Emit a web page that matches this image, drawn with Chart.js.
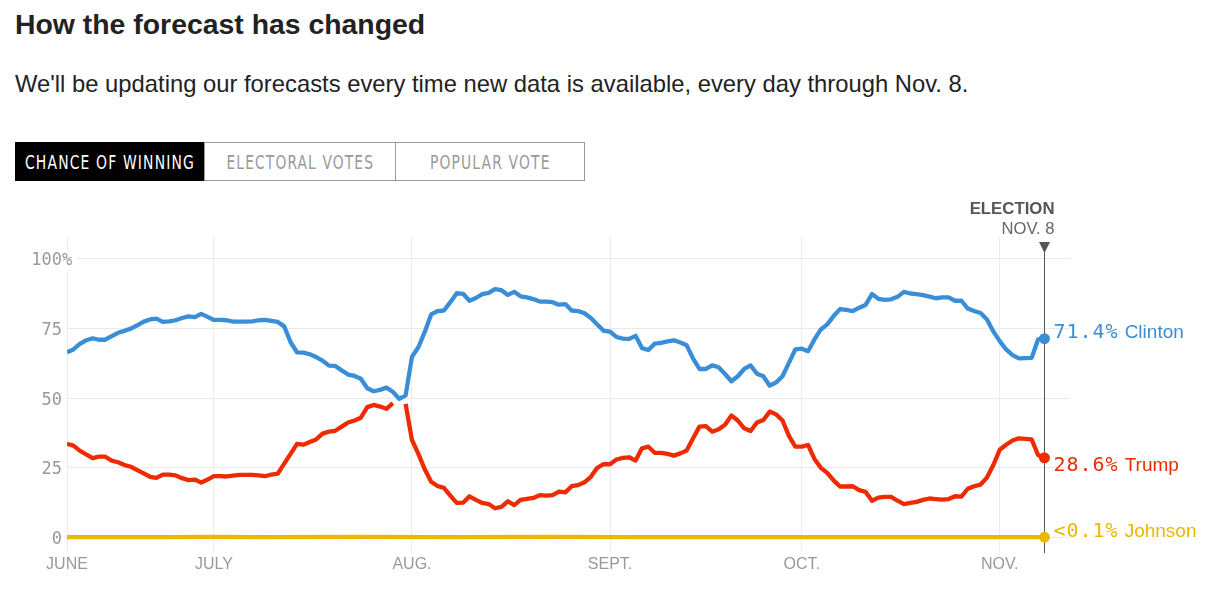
<!DOCTYPE html>
<html>
<head>
<meta charset="utf-8">
<script src="https://cdn.jsdelivr.net/npm/chart.js@4.4.1/dist/chart.umd.min.js"></script>
<style>
  body { margin: 0; background: #fff; width: 1213px; height: 592px; overflow: hidden; position: relative;
         font-family: "Liberation Sans", Arial, sans-serif; color: #222; }
  h1 { position: absolute; left: 15px; top: 10px; margin: 0; font-size: 28.4px; line-height: 28.4px; font-weight: bold; }
  .sub { position: absolute; left: 15px; top: 71.5px; margin: 0; font-size: 23.8px; line-height: 23.8px; }
  .tabs { position: absolute; left: 15px; top: 142px; width: 570px; height: 39px; box-sizing: border-box;
          border: 1px solid #999; display: flex; }
  .tab { height: 37px; display: flex; align-items: center; justify-content: center; box-sizing: border-box;
         color: #9a9a9a; font-family: "DejaVu Sans Condensed", "Liberation Sans Narrow", "DejaVu Sans", sans-serif;
         font-size: 20px; letter-spacing: 1.5px; white-space: nowrap; }
  .tab span { display: inline-block; transform-origin: center; }
  .tab.active { background: #000; color: #fff; margin: -1px 0 -1px -1px; height: 39px; }
  .tab + .tab { border-left: 1px solid #999; }
  #chart { position: absolute; left: 0; top: 0; }
</style>
</head>
<body>
<h1>How the forecast has changed</h1>
<p class="sub">We'll be updating our forecasts every time new data is available, every day through Nov. 8.</p>
<div class="tabs">
  <div class="tab active" style="width:189px"><span data-w="170">CHANCE OF WINNING</span></div>
  <div class="tab" style="width:191px"><span data-w="148">ELECTORAL VOTES</span></div>
  <div class="tab" style="width:189px"><span data-w="121">POPULAR VOTE</span></div>
</div>
<canvas id="chart" width="1213" height="592"></canvas>
<script>
// jours comptés depuis le 8 juin 2016 (0) jusqu'au 8 nov. (153)
const monthTicks = [0, 23, 54, 85, 115, 146];
const monthLabels = ['JUNE', 'JULY', 'AUG.', 'SEPT.', 'OCT.', 'NOV.'];
const yTicks = [0, 25, 50, 75, 100];
const electionDay = 153;

const clinton = [
  66.5, 67.5, 69.5, 70.8, 71.5, 71.0, 71.0, 72.3, 73.5, 74.2,
  75.0, 76.2, 77.5, 78.3, 78.6, 77.4, 77.6, 78.0, 78.8, 79.4,
  79.1, 80.3, 79.2, 78.1, 78.1, 78.0, 77.5, 77.5, 77.5, 77.6,
  78.0, 78.1, 77.8, 77.4, 75.8, 70.1, 66.5, 66.4, 65.8, 64.8,
  63.5, 61.7, 61.6, 60.0, 58.5, 58.0, 57.0, 53.6, 52.5, 53.0,
  53.8, 52.3, 49.8, 51.0, 64.9, 68.3, 73.8, 80.1, 81.3, 81.5,
  84.5, 87.7, 87.5, 85.0, 86.0, 87.4, 87.8, 89.2, 88.8, 87.1,
  88.2, 86.6, 86.2, 85.6, 84.7, 84.7, 84.5, 83.6, 83.8, 81.5,
  81.3, 80.5, 78.8, 76.5, 74.2, 73.9, 72.0, 71.4, 71.3, 72.4,
  68.0, 67.3, 69.6, 69.9, 70.4, 70.8, 70.0, 69.0, 64.2, 60.5,
  60.5, 61.8, 61.1, 58.7, 56.1, 57.9, 60.5, 61.8, 58.8, 57.9,
  54.5, 55.7, 57.9, 62.7, 67.5, 67.8, 66.9, 71.1, 74.7, 76.5,
  79.5, 82.0, 81.7, 81.3, 82.5, 83.5, 87.4, 85.7, 85.3, 85.5,
  86.4, 88.2, 87.6, 87.4, 87.0, 86.5, 85.9, 86.2, 86.2, 85.0,
  85.0, 82.2, 81.3, 80.6, 78.3, 74.0, 70.5, 67.5, 65.5, 64.3,
  64.4, 64.5, 71.1, 71.4
];

const trump = [
  33.6, 33.0, 31.2, 29.8, 28.5, 29.0, 29.0, 27.6, 27.0, 26.0,
  25.4, 24.2, 23.0, 21.8, 21.4, 22.6, 22.6, 22.3, 21.3, 20.6,
  20.8, 19.7, 20.8, 22.0, 22.0, 21.9, 22.2, 22.5, 22.5, 22.5,
  22.3, 22.0, 22.6, 22.9, 26.5, 30.0, 33.6, 33.3, 34.3, 35.2,
  37.3, 38.0, 38.3, 39.8, 41.3, 42.0, 43.0, 46.8, 47.6, 47.0,
  46.2, 48.2, null, 48.0, 35.0, 30.0, 24.5, 20.0, 18.5, 17.8,
  15.0, 12.4, 12.5, 14.8, 13.5, 12.4, 12.0, 10.5, 11.0, 13.0,
  11.6, 13.5, 13.9, 14.2, 15.2, 15.0, 15.2, 16.5, 16.2, 18.4,
  18.8, 19.8, 21.8, 25.0, 26.3, 26.3, 28.0, 28.6, 28.8, 27.6,
  32.0, 32.6, 30.4, 30.4, 30.0, 29.4, 30.2, 31.2, 35.6, 39.8,
  40.0, 38.0, 38.9, 40.5, 43.8, 42.0, 39.2, 38.2, 41.3, 42.2,
  45.2, 44.2, 42.0, 36.5, 32.6, 32.6, 33.2, 28.2, 25.0, 23.2,
  20.5, 18.3, 18.3, 18.4, 17.0, 16.4, 13.2, 14.3, 14.6, 14.6,
  13.2, 12.0, 12.4, 12.8, 13.5, 14.0, 13.8, 13.6, 13.8, 14.8,
  14.7, 17.5, 18.4, 19.0, 21.5, 26.0, 31.5, 33.3, 34.8, 35.6,
  35.4, 35.2, 29.6, 28.6
];

const johnsonDays = [0, 15, 22, 30, 45, 60, 75, 90, 105, 120, 135, 152, 153];
const johnson = [0.1, 0.1, 0.2, 0.1, 0.2, 0.1, 0.2, 0.1, 0.1, 0.1, 0.1, 0.1, 0.1];

const names = ['Clinton', 'Trump', 'Johnson'];
const finalText = ['71.4%', '28.6%', '<0.1%'];
const finalValues = [71.4, 28.6, 0.1];
const colors = ['#3a8ed7', '#ee2b00', '#ecb700'];
const labelShift = [-5.5, 8, -5.5];

// resserrer le texte des onglets (police condensée)
document.querySelectorAll('.tab span').forEach(s => {
  s.style.transform = 'scaleX(' + (s.dataset.w / s.offsetWidth) + ')';
});

const yLabels = {
  id: 'yLabels',
  beforeDatasetsDraw(chart) {
    const ctx = chart.ctx, y = chart.scales.y;
    ctx.save();
    ctx.font = '17px "DejaVu Sans Mono", monospace';
    ctx.textBaseline = 'middle';
    yTicks.forEach(v => {
      const py = y.getPixelForValue(v) + 2;
      const num = String(v);
      const w = ctx.measureText(num).width;
      const text = v === 100 ? num + '%' : num;
      const x0 = 62 - w;
      if (v === 100) {
        ctx.fillStyle = '#fff';
        ctx.fillRect(x0 - 3, py - 10, ctx.measureText(text).width + 8, 18);
      }
      ctx.fillStyle = '#999';
      ctx.fillText(text, x0, py);
    });
    ctx.restore();
  }
};

const election = {
  id: 'election',
  beforeDatasetsDraw(chart) {
    const ctx = chart.ctx, x = chart.scales.x;
    const px = Math.round(x.getPixelForValue(electionDay)) + 0.5;
    ctx.save();
    ctx.strokeStyle = '#555';
    ctx.lineWidth = 1;
    ctx.beginPath();
    ctx.moveTo(px, 251);
    ctx.lineTo(px, 553);
    ctx.stroke();
    ctx.fillStyle = '#555';
    ctx.beginPath();
    ctx.moveTo(px - 5.5, 242);
    ctx.lineTo(px + 5.5, 242);
    ctx.lineTo(px, 253);
    ctx.closePath();
    ctx.fill();
    ctx.textAlign = 'right';
    ctx.textBaseline = 'alphabetic';
    ctx.font = 'bold 16.8px "Liberation Sans", Arial, sans-serif';
    ctx.fillText('ELECTION', px + 10, 214);
    ctx.fillStyle = '#666';
    ctx.font = '16.6px "Liberation Sans", Arial, sans-serif';
    ctx.fillText('NOV. 8', px + 10, 234);
    ctx.restore();
  },
  afterDatasetsDraw(chart) {
    const ctx = chart.ctx, x = chart.scales.x, y = chart.scales.y;
    const px = x.getPixelForValue(electionDay);
    ctx.save();
    ctx.textBaseline = 'middle';
    names.forEach((name, i) => {
      const py = y.getPixelForValue(finalValues[i]) + labelShift[i];
      ctx.fillStyle = colors[i];
      ctx.font = '20px "DejaVu Sans Mono", monospace';
      ctx.letterSpacing = '1px';
      ctx.fillText(finalText[i], px + 9, py);
      const w = ctx.measureText(finalText[i]).width;
      ctx.letterSpacing = '0px';
      ctx.font = '19px "Liberation Sans", Arial, sans-serif';
      ctx.fillText(name, px + 9 + w + 6, py);
    });
    ctx.restore();
  }
};

const lastDot = c => (c.raw && c.raw.x === electionDay ? 5.5 : 0);

new Chart(document.getElementById('chart'), {
  type: 'line',
  data: {
    datasets: [
      { label: 'Clinton', data: clinton.map((v, i) => ({ x: i, y: v })), borderColor: colors[0], backgroundColor: colors[0] },
      { label: 'Trump', data: trump.map((v, i) => ({ x: i, y: v })), borderColor: colors[1], backgroundColor: colors[1] },
      { label: 'Johnson', data: johnsonDays.map((d, i) => ({ x: d, y: johnson[i] })), borderColor: colors[2], backgroundColor: colors[2] }
    ]
  },
  options: {
    responsive: false,
    animation: false,
    layout: { padding: { top: 236.7, right: 143, left: 0, bottom: 0 } },
    plugins: { legend: { display: false }, tooltip: { enabled: false } },
    elements: {
      line: { borderWidth: 4.3, tension: 0, borderJoinStyle: 'round', borderCapStyle: 'butt' },
      point: { radius: lastDot, borderWidth: 0, hoverRadius: 0 }
    },
    scales: {
      x: {
        type: 'linear', min: 0, max: 157,
        afterBuildTicks: s => { s.ticks = monthTicks.map(v => ({ value: v })); },
        afterFit: s => { s.height = 40.6; },
        ticks: {
          autoSkip: false, maxRotation: 0, padding: 4, color: '#999',
          font: { family: '"Liberation Sans", Arial, sans-serif', size: 16 },
          callback: (v, i) => monthLabels[i]
        },
        grid: { color: '#ececec', drawTicks: false },
        border: { display: false }
      },
      y: {
        min: -5, max: 108,
        afterBuildTicks: s => { s.ticks = yTicks.map(v => ({ value: v })); },
        afterFit: s => { s.width = 67; },
        ticks: { display: false },
        grid: { color: '#e9e9e9', drawTicks: false },
        border: { display: false }
      }
    }
  },
  plugins: [yLabels, election]
});
</script>
</body>
</html>
